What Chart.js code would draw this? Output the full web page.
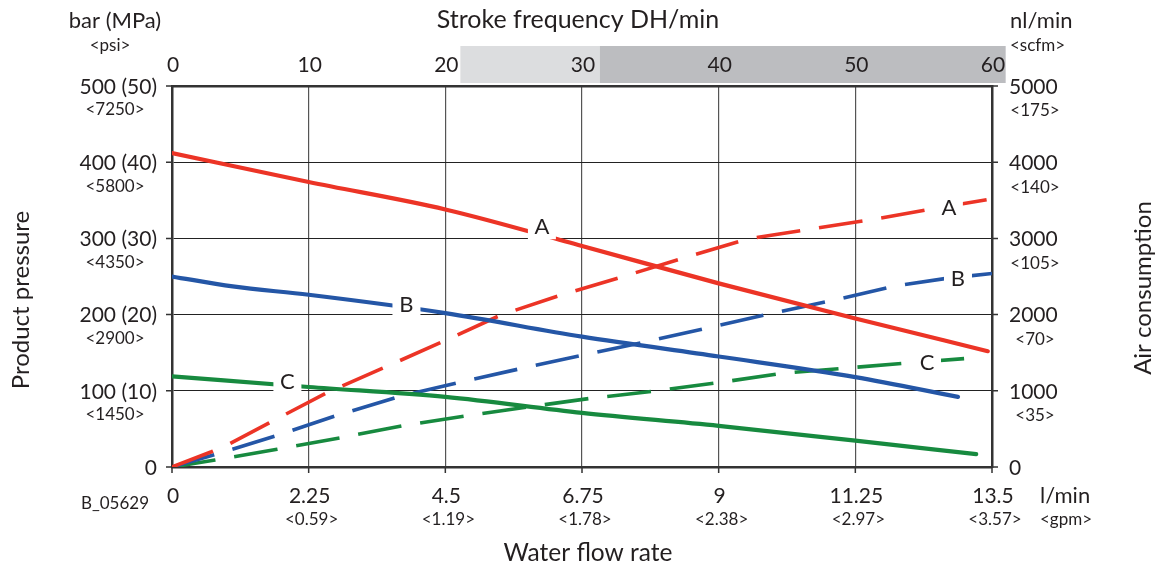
<!DOCTYPE html>
<html>
<head>
<meta charset="utf-8">
<script src="https://cdn.jsdelivr.net/npm/chart.js@4.4.0/dist/chart.umd.min.js"></script>
<style>
  html, body { margin: 0; padding: 0; background: #fff; }
  #wrap { width: 1157px; height: 569px; }
</style>
</head>
<body>
<div id="wrap"><canvas id="chart" width="1157" height="569"></canvas></div>
<script>
// axis ticks
const flowTicks = [0, 2.25, 4.5, 6.75, 9, 11.25, 13.5];
const gpmTicks = ['', '<0.59>', '<1.19>', '<1.78>', '<2.38>', '<2.97>', '<3.57>'];
const strokeTicks = [0, 10, 20, 30, 40, 50, 60];
const pressureTicks = [0, 100, 200, 300, 400, 500];
const mpaTicks = ['', '(10)', '(20)', '(30)', '(40)', '(50)'];
const psiTicks = ['', '<1450>', '<2900>', '<4350>', '<5800>', '<7250>'];
const airTicks = [0, 1000, 2000, 3000, 4000, 5000];
const scfmTicks = ['', '<35>', '<70>', '<105>', '<140>', '<175>'];

// shaded stroke-frequency bands (edges, DH/min)
const strokeBands = [21.1, 31.3, 61];

// product pressure, bar (solid)
const flowPressA = [0, 2.25, 4.5, 6.75, 9, 11.25, 13.43];
const pressA = [412, 374, 338, 290, 241, 195, 152];
const flowPressB = [0, 1, 2.25, 4.5, 6.75, 9, 11.25, 12.94];
const pressB = [250, 237, 226, 202, 171, 145, 118, 92];
const flowPressC = [0, 2.25, 4.5, 6.75, 9, 11.25, 13.24];
const pressC = [119, 105, 92, 71, 54, 34.5, 17];

// air consumption, nl/min (dashed)
const flowAirA = [0, 0.65, 0.96, 1.6, 2.55, 3.48, 4.47, 5.43, 6.42, 7.43, 8.45, 9.46, 10.5, 11.55, 12.56, 13.5];
const airA = [0, 200, 310, 580, 975, 1300, 1650, 2000, 2260, 2500, 2750, 2990, 3120, 3250, 3395, 3520];
const flowAirB = [0, 0.68, 1.7, 2.69, 3.72, 4.73, 5.76, 6.77, 7.81, 8.85, 9.87, 10.9, 11.93, 12.75, 13.5];
const airB = [0, 157, 407, 670, 920, 1110, 1295, 1470, 1645, 1830, 2015, 2190, 2380, 2475, 2540];
const flowAirC = [0, 0.71, 1.73, 2.78, 3.81, 4.84, 5.88, 6.88, 7.98, 9.02, 10.06, 11.13, 12.18, 13.24];
const airC = [0, 92, 232, 385, 542, 670, 790, 900, 1000, 1110, 1230, 1300, 1370, 1435];

// curve letters (flow, bar-scale value)
const curveNames = ['A', 'B', 'C', 'A', 'B', 'C'];
const curveNameFlow = [6.09, 3.86, 1.9, 12.79, 12.94, 12.43];
const curveNameValue = [316, 214, 113, 341.6, 248, 138];

const RED = '#ec3426';
const BLUE = '#2456a6';
const GREEN = '#178a3f';
const INK = '#231f20';
const FONT = 'Lato, "Open Sans", sans-serif';
const SMALL = 17;

const pairs = (xs, ys) => xs.map((x, i) => ({ x: x, y: ys[i] }));

const solid = (label, xs, ys, color) => ({
  label, data: pairs(xs, ys), yAxisID: 'y',
  borderColor: color, borderWidth: 4.2, borderCapStyle: 'round',
  cubicInterpolationMode: 'monotone', pointRadius: 0, fill: false
});

const dashed = (label, xs, ys, color) => ({
  label, data: pairs(xs, ys), yAxisID: 'y2',
  borderColor: color, borderWidth: 3.6, borderDash: [44, 19],
  tension: 0, pointRadius: 0, fill: false
});

const text = (ctx, s, x, y, size, align) => {
  ctx.font = size + 'px ' + FONT;
  ctx.textAlign = align || 'center';
  ctx.fillText(s, x, y);
};

const chartText = {
  id: 'chartText',
  beforeDraw(chart) {
    const { ctx } = chart;
    const top = chart.scales.x2;
    ctx.save();
    ctx.fillStyle = '#fff';
    ctx.fillRect(0, 0, chart.width, chart.height);
    const bandColors = ['#dcdddf', '#bcbdc0'];
    for (let i = 0; i < strokeBands.length - 1; i++) {
      const l = top.getPixelForValue(strokeBands[i]);
      const r = top.getPixelForValue(strokeBands[i + 1]);
      ctx.fillStyle = bandColors[i];
      ctx.fillRect(l, 46, r - l, 37);
    }
    ctx.restore();
  },
  afterDatasetsDraw(chart) {
    const { ctx } = chart;
    const x = chart.scales.x, y = chart.scales.y;
    ctx.save();
    ctx.textBaseline = 'middle';
    curveNames.forEach((n, i) => {
      const px = x.getPixelForValue(curveNameFlow[i]);
      const py = y.getPixelForValue(curveNameValue[i]);
      ctx.fillStyle = '#fff';
      ctx.fillRect(px - 14, py - 13, 28, 26);
      ctx.fillStyle = INK;
      text(ctx, n, px, py + 1, 22);
    });
    ctx.restore();
  },
  afterDraw(chart) {
    const { ctx, chartArea: a } = chart;
    const x = chart.scales.x, y = chart.scales.y, y2 = chart.scales.y2, x2 = chart.scales.x2;
    ctx.save();
    ctx.strokeStyle = '#333';
    ctx.lineWidth = 1.5;
    ctx.beginPath();
    pressureTicks.forEach(v => {
      const py = y.getPixelForValue(v);
      ctx.moveTo(a.left - 6, py); ctx.lineTo(a.left, py);
      ctx.moveTo(a.right, py); ctx.lineTo(a.right + 6, py);
    });
    flowTicks.forEach(v => {
      const px = x.getPixelForValue(v);
      ctx.moveTo(px, a.bottom); ctx.lineTo(px, a.bottom + 6);
    });
    ctx.stroke();

    ctx.fillStyle = INK;
    ctx.textBaseline = 'middle';

    // left axis
    text(ctx, 'bar (MPa)', 115, 21, 22);
    text(ctx, '<psi>', 110, 46, SMALL);
    pressureTicks.forEach((v, i) => {
      const py = y.getPixelForValue(v);
      text(ctx, mpaTicks[i] ? v + ' ' + mpaTicks[i] : String(v), 157, py + 1, 21, 'right');
      if (psiTicks[i]) text(ctx, psiTicks[i], 115, py + 24, SMALL);
    });

    // right axis
    text(ctx, 'nl/min', 1010, 21, 22, 'left');
    text(ctx, '<scfm>', 1010, 46, SMALL, 'left');
    airTicks.forEach((v, i) => {
      const py = y2.getPixelForValue(v);
      text(ctx, String(v), 1009, py + 1, 21, 'left');
      if (scfmTicks[i]) text(ctx, scfmTicks[i], 1035, py + 25, SMALL);
    });

    // top axis
    text(ctx, 'Stroke frequency DH/min', 578, 20, 25);
    strokeTicks.forEach(v => {
      text(ctx, String(v), x2.getPixelForValue(v) + 1, 65, 21);
    });

    // bottom axis
    flowTicks.forEach((v, i) => {
      const px = x.getPixelForValue(v);
      text(ctx, String(v), px + 1, 496, 21);
      if (gpmTicks[i]) text(ctx, gpmTicks[i], px + 3, 520, SMALL);
    });
    text(ctx, 'l/min', 1040, 496, 22, 'left');
    text(ctx, '<gpm>', 1040, 520, SMALL, 'left');
    text(ctx, 'B_05629', 115, 504, SMALL);
    text(ctx, 'Water flow rate', 588, 553, 24.5);

    // side titles
    ctx.save();
    ctx.translate(21, 300);
    ctx.rotate(-Math.PI / 2);
    text(ctx, 'Product pressure', 0, 0, 24);
    ctx.restore();
    ctx.save();
    ctx.translate(1143, 288);
    ctx.rotate(-Math.PI / 2);
    text(ctx, 'Air consumption', 0, 0, 24);
    ctx.restore();

    ctx.restore();
  }
};

new Chart(document.getElementById('chart'), {
  type: 'line',
  data: {
    datasets: [
      solid('A pressure', flowPressA, pressA, RED),
      solid('B pressure', flowPressB, pressB, BLUE),
      solid('C pressure', flowPressC, pressC, GREEN),
      dashed('A air', flowAirA, airA, RED),
      dashed('B air', flowAirB, airB, BLUE),
      dashed('C air', flowAirC, airC, GREEN)
    ]
  },
  options: {
    responsive: false,
    animation: false,
    layout: { padding: { left: 172, right: 165, top: 86, bottom: 102 } },
    plugins: { legend: { display: false }, tooltip: { enabled: false } },
    scales: {
      x: {
        type: 'linear', position: 'bottom', min: 0, max: 13.5,
        afterBuildTicks: s => { s.ticks = flowTicks.map(v => ({ value: v })); },
        ticks: { display: false },
        grid: { color: '#555', lineWidth: 1.2, drawTicks: false },
        border: { color: '#333', width: 2.5 }
      },
      x2: {
        type: 'linear', position: 'top', min: 0, max: 60,
        ticks: { display: false, stepSize: 10 },
        grid: { display: false, drawTicks: false },
        border: { color: '#333', width: 2.5 }
      },
      y: {
        type: 'linear', position: 'left', min: 0, max: 500,
        ticks: { display: false, stepSize: 100 },
        grid: { color: '#222', lineWidth: 1.1, drawTicks: false },
        border: { color: '#333', width: 2.5 }
      },
      y2: {
        type: 'linear', position: 'right', min: 0, max: 5000,
        ticks: { display: false, stepSize: 1000 },
        grid: { display: false, drawTicks: false },
        border: { color: '#333', width: 2.5 }
      }
    }
  },
  plugins: [chartText]
});
</script>
</body>
</html>
